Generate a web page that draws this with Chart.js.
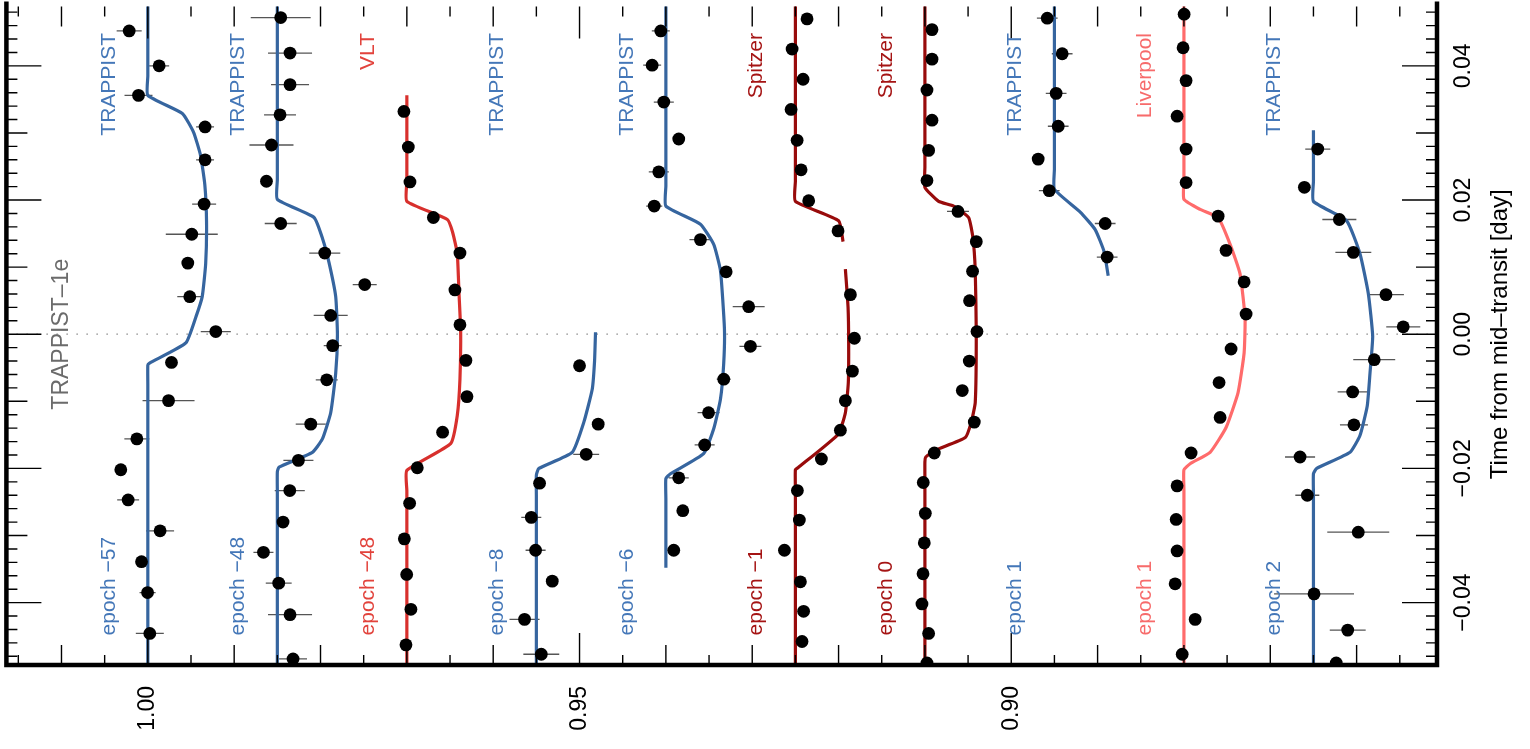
<!DOCTYPE html>
<html lang="en">
<head>
<meta charset="UTF-8">
<title>TRAPPIST-1e transit light curves</title>
<script src="https://cdn.jsdelivr.net/npm/chart.js"></script>
<style>
  html, body { margin: 0; padding: 0; background: #fff; }
  #wrap { position: relative; width: 1530px; height: 749px; }
</style>
</head>
<body>
<div id="wrap"><canvas id="lc"></canvas></div>
<script>
// ---- data: time from mid-transit [day], relative flux (offset per epoch) ----
const baseFlux = [1.000, 0.985, 0.970, 0.955, 0.940, 0.925, 0.910, 0.895, 0.880, 0.865];
const instruments = ['TRAPPIST', 'TRAPPIST', 'VLT', 'TRAPPIST', 'TRAPPIST', 'Spitzer', 'Spitzer', 'TRAPPIST', 'Liverpool', 'TRAPPIST'];
const epochs = ['epoch \u221257', 'epoch \u221248', 'epoch \u221248', 'epoch \u22128', 'epoch \u22126', 'epoch \u22121', 'epoch 0', 'epoch 1', 'epoch 1', 'epoch 2'];

const fluxTicks = [1.00, 0.95, 0.90];
const fluxTickLabels = ['1.00', '0.95', '0.90'];
const timeTicks = [-0.04, -0.02, 0.00, 0.02, 0.04];
const timeTickLabels = ['\u22120.04', '\u22120.02', '0.00', '0.02', '0.04'];

// model curves [time, flux]
const modelE57 = [[0.060,1.0],[0.0385,1.0],[0.0356,1.0],[0.0329,0.9960],[0.0301,0.9947],[0.0267,0.9939],[0.0223,0.9934],[0.0168,0.9932],[0.0105,0.9933],[0.0056,0.9937],[0.0027,0.9944],[-0.0013,0.9956],[-0.0043,0.9998],[-0.0046,1.0],[-0.0075,1.0],[-0.060,1.0]];
const modelE48T = [[0.060,0.985],[0.0230,0.985],[0.0201,0.985],[0.0174,0.98075],[0.0142,0.97975],[0.0107,0.97902],[0.0056,0.97824],[-0.0001,0.97804],[-0.0058,0.97824],[-0.0117,0.97882],[-0.0156,0.97978],[-0.0176,0.98094],[-0.0198,0.9848],[-0.0205,0.985],[-0.0235,0.985],[-0.060,0.985]];
const modelE48V = [[0.0356,0.970],[0.0228,0.970],[0.0198,0.970],[0.0171,0.96531],[0.0152,0.9647],[0.0120,0.96416],[0.0061,0.96396],[0.0006,0.96377],[-0.0067,0.96385],[-0.0121,0.96416],[-0.0163,0.96493],[-0.0203,0.970],[-0.0233,0.970],[-0.060,0.970]];
const modelE8 = [[0.0003,0.94815],[-0.0040,0.94826],[-0.0082,0.94853],[-0.0131,0.9495],[-0.0176,0.95085],[-0.0200,0.95471],[-0.0210,0.955],[-0.0240,0.955],[-0.060,0.955]];
const modelE6 = [[0.060,0.940],[0.0221,0.940],[0.0191,0.940],[0.0164,0.936],[0.0134,0.93446],[0.0095,0.93368],[0.0009,0.93322],[-0.0043,0.9333],[-0.0097,0.93368],[-0.0141,0.93446],[-0.0178,0.93563],[-0.0208,0.93947],[-0.0215,0.940],[-0.0245,0.940],[-0.0348,0.940]];
const modelE1S = [[0.060,0.925],[0.0228,0.925],[0.0198,0.925],[0.0169,0.91999],[0.0138,0.91948],[null,null],[0.0097,0.91921],[0.0040,0.9189],[-0.0013,0.91883],[-0.0072,0.91887],[-0.0117,0.91921],[-0.0149,0.92004],[-0.0199,0.9247],[-0.0202,0.925],[-0.0232,0.925],[-0.060,0.925]];
const modelE0S = [[0.060,0.910],[0.0249,0.910],[0.0219,0.910],[0.0198,0.90841],[0.0191,0.90667],[0.0174,0.90494],[0.0144,0.90444],[0.0095,0.90417],[0.0001,0.90405],[-0.0102,0.90417],[-0.0131,0.90463],[-0.0154,0.90532],[-0.0173,0.9088],[-0.0183,0.9099],[-0.0190,0.910],[-0.0220,0.910],[-0.060,0.910]];
const modelE1T = [[0.060,0.895],[0.0246,0.895],[0.0216,0.895],[0.0182,0.89201],[0.0156,0.89028],[0.0123,0.88924],[0.0087,0.88877]];
const modelE1L = [[0.060,0.880],[0.0231,0.880],[0.0201,0.880],[0.0186,0.87813],[0.0174,0.87604],[0.0134,0.87465],[0.0090,0.8735],[0.0024,0.87292],[-0.0028,0.87303],[-0.0087,0.87373],[-0.0139,0.87512],[-0.0176,0.87697],[-0.0193,0.87928],[-0.0202,0.880],[-0.0232,0.880],[-0.060,0.880]];
const modelE2 = [[0.0304,0.865],[0.0228,0.865],[0.0198,0.865],[0.0169,0.86115],[0.0120,0.85961],[0.0061,0.85865],[-0.0003,0.85814],[-0.0058,0.85845],[-0.0107,0.85877],[-0.0151,0.85961],[-0.0176,0.86076],[-0.0200,0.86462],[-0.0208,0.865],[-0.0238,0.865],[-0.060,0.865]];

// observations [time, flux, flux error]
const obsE57 = [[0.0452,1.00216,0.00145],[0.0400,0.99869,0.00116],[0.0356,1.00108,0.00162],[0.0309,0.99337,0.00104],[0.0260,0.99337,0.00104],[0.0194,0.99348,0.00139],[0.0149,0.99491,0.00301],[0.0106,0.99537,0],[0.0056,0.99514,0.00145],[0.0004,0.99213,0.00174],[-0.0042,0.99726,0],[-0.0099,0.99760,0.00301],[-0.0156,1.00127,0.00145],[-0.0202,1.00313,0],[-0.0247,1.00228,0.00127],[-0.0293,0.99858,0.00162],[-0.0339,1.00073,0],[-0.0385,1.00003,0.00093],[-0.0446,0.99977,0.00162]];
const obsE48T = [[0.0472,0.98461,0.00347],[0.0419,0.98353,0.00255],[0.0372,0.98353,0.0022],[0.0327,0.98469,0.00185],[0.0282,0.98568,0.00255],[0.0228,0.98626,0],[0.0165,0.98461,0.00185],[0.0121,0.97951,0.0018],[0.0074,0.97488,0.00139],[0.0028,0.97882,0.00197],[-0.0017,0.97859,0.00104],[-0.0068,0.97928,0.00127],[-0.0134,0.98113,0.00174],[-0.0188,0.98256,0.00174],[-0.0233,0.98356,0.00174],[-0.0280,0.98434,0],[-0.0325,0.98661,0.00116],[-0.0371,0.98484,0.0015],[-0.0418,0.98353,0.00255],[-0.0484,0.98318,0.00162]];
const obsE48V = [[0.0332,0.97034,0],[0.0279,0.96983,0],[0.0227,0.96964,0],[0.0174,0.96693,0],[0.0121,0.96385,0],[0.0066,0.96443,0],[0.0014,0.96385,0],[-0.0039,0.96316,0],[-0.0093,0.96304,0],[-0.0146,0.96586,0],[-0.0199,0.96879,0],[-0.0252,0.96968,0],[-0.0305,0.97029,0],[-0.0358,0.97002,0],[-0.0410,0.96953,0],[-0.0463,0.9701,0]];
const obsE8 = [[-0.0047,0.9500,0],[-0.0134,0.94784,0],[-0.0179,0.94923,0.0015],[-0.0222,0.95463,0],[-0.0273,0.95559,0.00116],[-0.0322,0.95509,0.00116],[-0.0368,0.95316,0],[-0.0425,0.95637,0.00174],[-0.0477,0.95443,0.00208]];
const obsE6 = [[0.0452,0.94059,0.00104],[0.0401,0.94159,0.00104],[0.0346,0.94024,0.00116],[0.0291,0.93851,0],[0.0242,0.94082,0.00116],[0.0191,0.94135,0.00093],[0.0141,0.9360,0.00127],[0.0093,0.93302,0],[0.0041,0.93041,0.00185],[-0.0018,0.93021,0.00127],[-0.0067,0.9333,0.00081],[-0.0117,0.93506,0.00127],[-0.0165,0.93551,0.00116],[-0.0214,0.93851,0.00116],[-0.0263,0.93804,0],[-0.0322,0.93909,0]];
const obsE1S = [[0.0470,0.92365,0],[0.0425,0.92538,0],[0.0380,0.92411,0],[0.0335,0.9255,0],[0.0289,0.9248,0],[0.0245,0.92434,0],[0.0199,0.92346,0],[0.0154,0.92006,0],[0.0059,0.91863,0],[-0.0006,0.91817,0],[-0.0055,0.9184,0],[-0.0099,0.91921,0],[-0.0143,0.91979,0],[-0.0186,0.92199,0],[-0.0233,0.92477,0],[-0.0277,0.92454,0],[-0.0322,0.92627,0],[-0.0369,0.92442,0],[-0.0413,0.92405,0],[-0.0458,0.92423,0]];
const obsE0S = [[0.0454,0.90918,0],[0.0410,0.90918,0],[0.0364,0.90976,0],[0.0319,0.90918,0],[0.0274,0.90957,0],[0.0229,0.90976,0],[0.0183,0.90617,0.00127],[0.0138,0.90405,0],[0.0094,0.90448,0],[0.0050,0.90483,0],[0.0004,0.90397,0],[-0.0040,0.90486,0],[-0.0084,0.90567,0],[-0.0131,0.90428,0],[-0.0177,0.90891,0],[-0.0221,0.91019,0],[-0.0267,0.90995,0],[-0.0311,0.91007,0],[-0.0357,0.91022,0],[-0.0402,0.91034,0],[-0.0446,0.90957,0],[-0.0490,0.90976,0]];
const obsE1T = [[0.0471,0.89583,0.0012],[0.0418,0.8941,0.0012],[0.0359,0.8948,0.0012],[0.0310,0.89456,0.0012],[0.0261,0.89688,0],[0.0214,0.8956,0.0012],[0.0165,0.88912,0.0012],[0.0115,0.88889,0.0012]];
const obsE1L = [[0.0477,0.87998,0],[0.0427,0.8801,0],[0.0378,0.87975,0],[0.0325,0.88079,0],[0.0276,0.87975,0],[0.0226,0.87975,0],[0.0176,0.87604,0],[0.0125,0.87512,0],[0.0078,0.87303,0],[0.0030,0.8728,0],[-0.0022,0.87454,0],[-0.0072,0.87593,0],[-0.0124,0.87581,0],[-0.0177,0.87917,0],[-0.0226,0.88079,0],[-0.0276,0.8809,0],[-0.0323,0.88079,0],[-0.0372,0.88102,0],[-0.0425,0.8787,0],[-0.0477,0.8802,0]];
const obsE2 = [[0.0276,0.8645,0.00145],[0.0219,0.86605,0],[0.0171,0.8620,0.00197],[0.0122,0.86038,0.00208],[0.0059,0.8566,0.00208],[0.0011,0.8546,0.00197],[-0.0038,0.85796,0.00243],[-0.0086,0.86046,0.00174],[-0.0135,0.86031,0.00162],[-0.0183,0.86655,0.00174],[-0.0240,0.86571,0.00139],[-0.0295,0.85981,0.00359],[-0.0387,0.86493,0.00463],[-0.0441,0.86103,0.00208],[-0.0490,0.86236,0]];

const models = [modelE57, modelE48T, modelE48V, modelE8, modelE6, modelE1S, modelE0S, modelE1T, modelE1L, modelE2];
const observations = [obsE57, obsE48T, obsE48V, obsE8, obsE6, obsE1S, obsE0S, obsE1T, obsE1L, obsE2];

// ---- styles ----
const instColor = {
  TRAPPIST:  { line: '#36659f', text: '#4477b8' },
  VLT:       { line: '#d8302d', text: '#e2433c' },
  Spitzer:   { line: '#980b0b', text: '#a51414' },
  Liverpool: { line: '#ff6b6b', text: '#f76b6b' }
};
const FONT = '"Liberation Sans", Arial, Helvetica, sans-serif';

const datasets = [];
models.forEach((m, i) => {
  datasets.push({
    data: m.map(p => ({ x: p[1], y: p[0] })),
    showLine: true,
    borderColor: instColor[instruments[i]].line,
    borderWidth: 3.2,
    pointRadius: 0,
    tension: 0.15,
    spanGaps: false,
    order: 2
  });
});
observations.forEach(o => {
  datasets.push({
    data: o.map(p => ({ x: p[1], y: p[0] })),
    errs: o.map(p => p[2]),
    showLine: false,
    pointRadius: 6.4,
    pointBackgroundColor: '#000',
    pointBorderWidth: 0,
    order: 1
  });
});

function vtext(ctx, str, x, y, align, size, color) {
  ctx.save();
  ctx.translate(x, y);
  ctx.rotate(-Math.PI / 2);
  ctx.textAlign = align;
  ctx.textBaseline = 'middle';
  ctx.font = size + 'px ' + FONT;
  ctx.fillStyle = color;
  ctx.fillText(str, 0, 0);
  ctx.restore();
}

const framePlugin = {
  id: 'frame',
  beforeDatasetsDraw(chart) {
    const { ctx, chartArea: a, scales: { x, y } } = chart;
    ctx.save();
    ctx.beginPath();
    ctx.rect(a.left, a.top, a.right - a.left, a.bottom - a.top);
    ctx.clip();
    // dotted line at mid-transit
    const y0 = y.getPixelForValue(0);
    ctx.strokeStyle = '#8a8a8a';
    ctx.lineWidth = 1.3;
    ctx.setLineDash([1.5, 8.5]);
    ctx.beginPath();
    ctx.moveTo(a.left, y0);
    ctx.lineTo(a.right, y0);
    ctx.stroke();
    ctx.setLineDash([]);
    // horizontal error bars
    ctx.strokeStyle = '#555';
    ctx.lineWidth = 1.3;
    chart.data.datasets.forEach(ds => {
      if (!ds.errs) return;
      ds.data.forEach((p, i) => {
        const e = ds.errs[i];
        if (!e) return;
        const py = y.getPixelForValue(p.y);
        ctx.beginPath();
        ctx.moveTo(x.getPixelForValue(p.x - e), py);
        ctx.lineTo(x.getPixelForValue(p.x + e), py);
        ctx.stroke();
      });
    });
    ctx.restore();
  },
  afterDraw(chart) {
    const { ctx, chartArea: a, scales: { x, y } } = chart;
    ctx.save();
    // tick marks on all four sides, pointing inward
    ctx.strokeStyle = '#000';
    ctx.lineWidth = 1.4;
    for (let k = 170; k <= 204; k++) {
      const px = x.getPixelForValue(k / 200);
      if (px < a.left + 2 || px > a.right - 2) continue;
      const len = k % 10 === 0 ? 32 : (k % 2 === 0 ? 20 : 10);
      ctx.beginPath();
      ctx.moveTo(px, a.bottom); ctx.lineTo(px, a.bottom - len);
      ctx.moveTo(px, a.top); ctx.lineTo(px, a.top + len);
      ctx.stroke();
    }
    for (let k = -25; k <= 25; k++) {
      const py = y.getPixelForValue(k / 500);
      if (py < a.top || py > a.bottom - 2) continue;
      const len = k % 10 === 0 ? 35 : (k % 5 === 0 ? 21 : 11);
      ctx.beginPath();
      ctx.moveTo(a.left, py); ctx.lineTo(a.left + len, py);
      ctx.moveTo(a.right, py); ctx.lineTo(a.right - len, py);
      ctx.stroke();
    }
    // frame (top edge lies outside the view)
    ctx.lineWidth = 4.5;
    ctx.beginPath();
    ctx.moveTo(a.left, a.top - 5);
    ctx.lineTo(a.left, a.bottom);
    ctx.lineTo(a.right, a.bottom);
    ctx.lineTo(a.right, a.top - 5);
    ctx.stroke();

    // tick labels
    fluxTicks.forEach((v, i) => vtext(ctx, fluxTickLabels[i], x.getPixelForValue(v), a.bottom + 21, 'right', 23, '#000'));
    timeTicks.forEach((v, i) => vtext(ctx, timeTickLabels[i], a.right + 27, y.getPixelForValue(v), 'center', 23, '#000'));
    vtext(ctx, 'Time from mid\u2013transit [day]', a.right + 63, y.getPixelForValue(0), 'center', 24, '#000');

    // per-transit labels
    baseFlux.forEach((b, i) => {
      const c = instColor[instruments[i]].text;
      const px = x.getPixelForValue(b + 0.0045);
      vtext(ctx, instruments[i], px, y.getPixelForValue(0.0449), 'right', 21, c);
      vtext(ctx, epochs[i], px, y.getPixelForValue(-0.0449), 'left', 21, c);
    });
    vtext(ctx, 'TRAPPIST\u20131e', x.getPixelForValue(1.00995), y.getPixelForValue(0), 'center', 23, '#6b6b6b');
    ctx.restore();
  }
};

new Chart(document.getElementById('lc'), {
  type: 'scatter',
  data: { datasets },
  options: {
    responsive: true,
    maintainAspectRatio: false,
    devicePixelRatio: 1,
    animation: false,
    events: [],
    layout: { padding: { left: 5.5, right: 93, top: 0, bottom: 84 } },
    plugins: { legend: { display: false }, tooltip: { enabled: false } },
    scales: {
      x: { type: 'linear', display: false, reverse: true, min: 0.85069, max: 1.01638 },
      y: { type: 'linear', display: false, min: -0.0493, max: 0.04886 }
    }
  },
  plugins: [framePlugin]
});
</script>
</body>
</html>
